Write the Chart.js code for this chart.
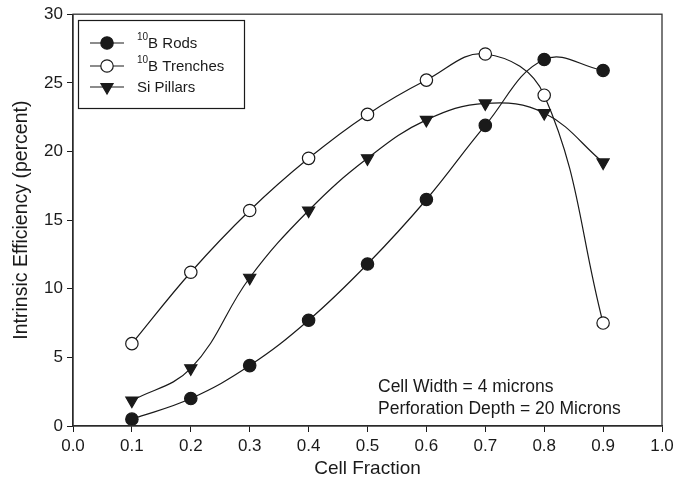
<!DOCTYPE html>
<html>
<head>
<meta charset="utf-8">
<script src="https://cdn.jsdelivr.net/npm/chart.js@4/dist/chart.umd.min.js"></script>
<style>
html,body{margin:0;padding:0;background:#fff;}
#wrap{width:692px;height:480px;position:relative;}
</style>
</head>
<body>
<div id="wrap"><canvas id="c" width="692" height="480"></canvas></div>
<script>
const cellFraction = [0.1, 0.2, 0.3, 0.4, 0.5, 0.6, 0.7, 0.8, 0.9];
const rods     = [0.5, 2.0, 4.4, 7.7, 11.8, 16.5, 21.9, 26.7, 25.9];
const trenches = [6.0, 11.2, 15.7, 19.5, 22.7, 25.2, 27.1, 24.1, 7.5];
const pillars  = [1.85, 4.2, 10.8, 15.7, 19.5, 22.3, 23.5, 22.8, 19.2];
const seriesNames = [["10", "B Rods"], ["10", "B Trenches"], ["", "Si Pillars"]];
const noteLines = ["Cell Width = 4 microns", "Perforation Depth = 20 Microns"];

const FONT = "'Liberation Sans', Arial, sans-serif";
const INK = '#1a1a1a';

function pts(ys){ return cellFraction.map((x,i)=>({x:x, y:ys[i]})); }

const base = {borderColor: INK, borderWidth: 1.2, tension: 0.4, pointBorderColor: INK, pointBorderWidth: 1.2, fill:false};
const datasets = [
  Object.assign({}, base, {label: seriesNames[0].join(''), data: pts(rods), pointStyle:'circle', pointRadius:6.2, pointBackgroundColor: INK}),
  Object.assign({}, base, {label: seriesNames[1].join(''), data: pts(trenches), pointStyle:'circle', pointRadius:6.2, pointBackgroundColor: '#fff'}),
  Object.assign({}, base, {label: seriesNames[2].join(''), data: pts(pillars), pointStyle:'triangle', pointRotation:180, pointRadius:7, pointBackgroundColor: INK})
];

const framePlugin = {
  id: 'frame',
  afterDraw(chart){
    const ctx = chart.ctx, a = chart.chartArea;
    ctx.save();
    ctx.strokeStyle = '#333';
    ctx.lineWidth = 1.3;
    ctx.strokeRect(a.left, a.top, a.right - a.left, a.bottom - a.top);

    // legend
    const lx = 78, ly = 20, lw = 166, lh = 88;
    ctx.fillStyle = '#fff';
    ctx.fillRect(lx, ly, lw, lh);
    ctx.strokeStyle = INK;
    ctx.lineWidth = 1.2;
    ctx.strokeRect(lx+0.5, ly+0.5, lw, lh);
    const rows = [43, 66, 87];
    datasets.forEach((ds, i) => {
      const y = rows[i];
      ctx.strokeStyle = INK;
      ctx.lineWidth = 1.2;
      ctx.beginPath(); ctx.moveTo(90, y); ctx.lineTo(124, y); ctx.stroke();
      ctx.fillStyle = ds.pointBackgroundColor;
      ctx.strokeStyle = INK;
      Chart.helpers.drawPoint(ctx, {pointStyle: ds.pointStyle, rotation: ds.pointRotation || 0, radius: ds.pointRadius, borderWidth: 1.2}, 107, y);
      ctx.fillStyle = INK;
      ctx.textBaseline = 'middle';
      ctx.textAlign = 'left';
      let tx = 137;
      const [sup, main] = seriesNames[i];
      if (sup) {
        ctx.font = '10px ' + FONT;
        ctx.fillText(sup, tx, y - 6);
        tx += ctx.measureText(sup).width;
      }
      ctx.font = '15px ' + FONT;
      ctx.fillText(main, tx, y + 1);
    });

    // note
    ctx.font = '17.5px ' + FONT;
    ctx.fillStyle = INK;
    ctx.textAlign = 'left';
    ctx.textBaseline = 'middle';
    noteLines.forEach((t, i) => ctx.fillText(t, 378, 387 + i*22));
    ctx.restore();
  }
};

new Chart(document.getElementById('c'), {
  type: 'line',
  data: { datasets },
  options: {
    responsive: false,
    animation: false,
    layout: { padding: { left: 0, top: 14, right: 30, bottom: 0 } },
    plugins: { legend: { display: false }, tooltip: { enabled: false } },
    scales: {
      x: {
        type: 'linear', min: 0, max: 1,
        ticks: { stepSize: 0.1, color: INK, font: { family: FONT, size: 17 }, padding: 4, callback: v => Number(v).toFixed(1), maxRotation: 0 },
        grid: { drawOnChartArea: false, drawTicks: true, tickLength: 6, color: INK },
        border: { display: true, color: INK, width: 1.3 },
        title: { display: true, text: 'Cell Fraction', color: INK, font: { family: FONT, size: 19 }, padding: { top: 0, bottom: 0 } },
        afterFit(s){ s.height = 54; }
      },
      y: {
        type: 'linear', min: 0, max: 30,
        ticks: { stepSize: 5, color: INK, font: { family: FONT, size: 17 }, padding: 4 },
        grid: { drawOnChartArea: false, drawTicks: true, tickLength: 6, color: INK },
        border: { display: true, color: INK, width: 1.3 },
        title: { display: true, text: 'Intrinsic Efficiency (percent)', color: INK, font: { family: FONT, size: 19.5 }, padding: { top: 10, bottom: 0 } },
        afterFit(s){ s.width = 73; }
      }
    }
  },
  plugins: [framePlugin]
});
</script>
</body>
</html>
